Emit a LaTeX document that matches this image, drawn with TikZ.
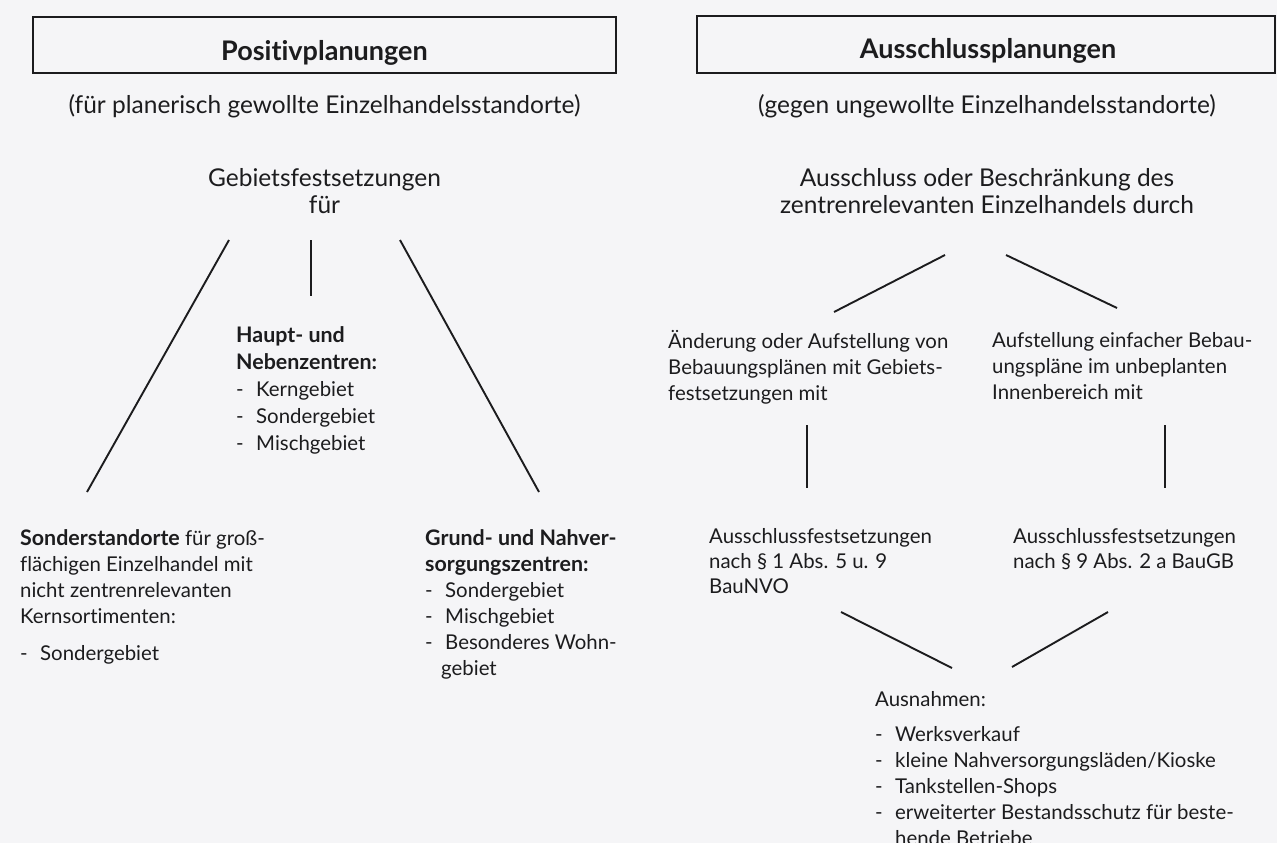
\documentclass[tikz,border=0pt]{standalone}
\usepackage{fontspec}
\setmainfont{Lato}[Ligatures=NoCommon]
\definecolor{ink}{RGB}{28,28,30}
\definecolor{paper}{RGB}{245,245,247}
\newcommand\rowsL[1]{\vtop{\halign{##\hfil\cr#1\crcr}}}
\newcommand\rowsC[1]{\vtop{\halign{\hfil##\hfil\cr#1\crcr}}}
\newcommand\itm{\makebox[20pt][l]{-}}
\newcommand\bb[1]{{\bfseries\fontsize{21.4}{26}\selectfont #1}}
\tikzset{
  conn/.style={line width=1.9pt, draw=ink},
  headbox/.style={draw=ink, line width=1.9pt, inner sep=0pt},
  headtxt/.style={inner sep=0pt, anchor=base, text=ink, font=\bfseries\fontsize{27}{30}\selectfont},
  bigtxt/.style={inner sep=0pt, anchor=base, text=ink, font=\fontsize{24.5}{27}\selectfont},
  body/.style={inner sep=0pt, anchor=base west, text=ink, font=\fontsize{20.4}{26}\selectfont},
}
\begin{document}
\begin{tikzpicture}[x=1pt,y=-1pt]
\path[use as bounding box, fill=paper] (0,0) rectangle (1277,843);

% ---- header boxes
\node[headbox, minimum width=583pt, minimum height=56pt] (boxL) at (324.5,45) {};
\node[headbox, minimum width=578pt, minimum height=57pt] (boxR) at (986,44.5) {};
\node[headtxt] (headL) at (324.5,60) {Positivplanungen};
\node[headtxt] (headR) at (988,59) {Ausschlussplanungen};

% ---- subtitles
\node[bigtxt] (subL) at (324.5,113) {(für planerisch gewollte Einzelhandelsstandorte)};
\node[bigtxt] (subR) at (987,113) {(gegen ungewollte Einzelhandelsstandorte)};

% ---- left tree
\node[bigtxt] (gebiet) at (324.5,186) {\rowsC{Gebietsfestsetzungen\cr für}};
\node[body, font=\fontsize{20.4}{27}\selectfont] (haupt) at (236,342)
  {\rowsL{\bb{Haupt- und}\cr\bb{Nebenzentren:}\cr\itm Kerngebiet\cr\itm Sondergebiet\cr\itm Mischgebiet}};
\node[body] (sonder) at (20,545)
  {\rowsL{\bb{Sonderstandorte} für groß-\cr flächigen Einzelhandel mit\cr nicht zentrenrelevanten\cr Kernsortimenten:\cr\noalign{\vskip 11pt}\itm Sondergebiet}};
\node[body] (grund) at (425,545)
  {\rowsL{\bb{Grund- und Nahver-}\cr\bb{sorgungszentren:}\cr\itm Sondergebiet\cr\itm Mischgebiet\cr\itm Besonderes Wohn-\cr\hspace{16pt}gebiet}};

\coordinate (g1) at (229,240); \coordinate (s1) at (87,492);
\coordinate (g2) at (311,240); \coordinate (h2) at (311,296);
\coordinate (g3) at (400,240); \coordinate (n3) at (539,492);
\draw[conn] (g1) -- (s1);
\draw[conn] (g2) -- (h2);
\draw[conn] (g3) -- (n3);

% ---- right tree
\node[bigtxt] (aus) at (987,186) {\rowsC{Ausschluss oder Beschränkung des\cr zentrenrelevanten Einzelhandels durch}};
\node[body] (aend) at (668,348)
  {\rowsL{Änderung oder Aufstellung von\cr Bebauungsplänen mit Gebiets-\cr festsetzungen mit}};
\node[body] (aufst) at (992,347)
  {\rowsL{Aufstellung einfacher Bebau-\cr ungspläne im unbeplanten\cr Innenbereich mit}};
\node[body, font=\fontsize{20.4}{25}\selectfont] (fsL) at (709,543)
  {\rowsL{Ausschlussfestsetzungen\cr nach § 1 Abs. 5 u. 9\cr BauNVO}};
\node[body, font=\fontsize{20.4}{25}\selectfont] (fsR) at (1013,543)
  {\rowsL{Ausschlussfestsetzungen\cr nach § 9 Abs. 2 a BauGB}};
\node[body] (ausn) at (875,706)
  {\rowsL{Ausnahmen:\cr\noalign{\vskip 9pt}\itm Werksverkauf\cr\itm kleine Nahversorgungsläden/Kioske\cr\itm Tankstellen-Shops\cr\itm erweiterter Bestandsschutz für beste-\cr\hspace{20pt}hende Betriebe}};

\coordinate (a1) at (945,255); \coordinate (e1) at (834,312);
\coordinate (a2) at (1006,255); \coordinate (f2) at (1117,308);
\coordinate (e3) at (807,425); \coordinate (l3) at (807,488);
\coordinate (f4) at (1165,425); \coordinate (r4) at (1165,488);
\coordinate (l5) at (841,612); \coordinate (x5) at (952,668);
\coordinate (r6) at (1108,612); \coordinate (x6) at (1012,667);
\draw[conn] (a1) -- (e1);
\draw[conn] (a2) -- (f2);
\draw[conn] (e3) -- (l3);
\draw[conn] (f4) -- (r4);
\draw[conn] (l5) -- (x5);
\draw[conn] (r6) -- (x6);
\end{tikzpicture}
\end{document}
